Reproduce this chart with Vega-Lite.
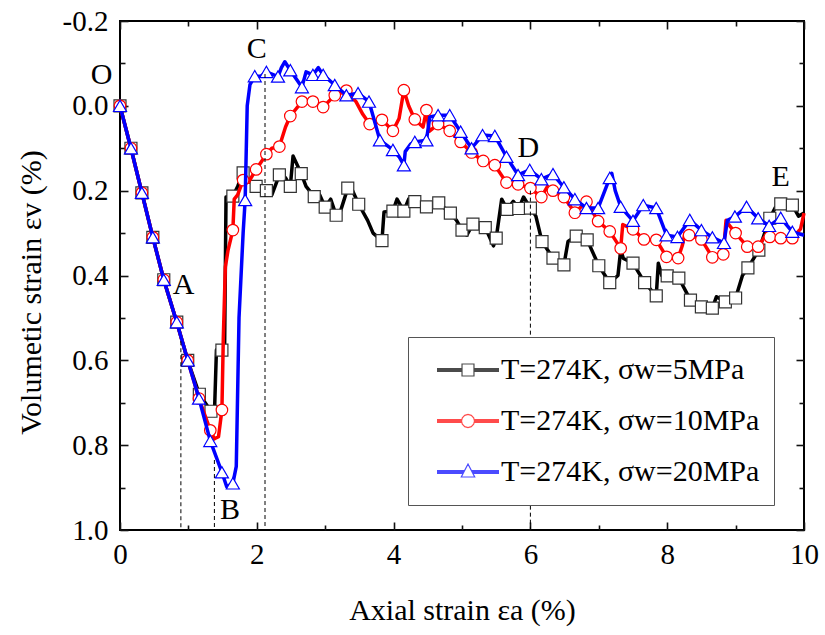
{
"$schema":"https://vega.github.io/schema/vega-lite/v6.json",
"width":684,"height":509,
"autosize":"none",
"padding":{"left":120,"top":21,"right":21,"bottom":105},
"background":"white",
"config":{"view":{"stroke":"black","strokeWidth":2},
"axis":{"grid":false,"domain":false,"labelColor":"black","titleColor":"black","titleFontWeight":"normal"}},
"datasets":{
"series":[{"series":"5MPa"},{"series":"10MPa"},{"series":"20MPa"}],
"guides":[{"axial":0.89,"vol":0.555,"vol2":1.0},{"axial":1.38,"vol":0.835,"vol2":1.0},{"axial":2.12,"vol":-0.075,"vol2":1.0},{"axial":6.0,"vol":0.2,"vol2":1.0}],
"labels":[{"label":"O","axial":-0.27,"vol":-0.072},{"label":"A","axial":0.93,"vol":0.422},{"label":"B","axial":1.61,"vol":0.953},{"label":"C","axial":2.0,"vol":-0.134},{"label":"D","axial":5.97,"vol":0.1},{"label":"E","axial":9.66,"vol":0.167}],
"curves":[
{"series":"5MPa","axial":0,"vol":0,"mk":1},{"series":"5MPa","axial":0.16,"vol":0.1,"mk":1},{"series":"5MPa","axial":0.32,"vol":0.205,"mk":1},{"series":"5MPa","axial":0.48,"vol":0.31,"mk":1},{"series":"5MPa","axial":0.64,"vol":0.41,"mk":1},{"series":"5MPa","axial":0.83,"vol":0.51,"mk":1},{"series":"5MPa","axial":0.99,"vol":0.6,"mk":1},{"series":"5MPa","axial":1.16,"vol":0.68,"mk":1},{"series":"5MPa","axial":1.33,"vol":0.72,"mk":1},{"series":"5MPa","axial":1.38,"vol":0.73,"mk":0},{"series":"5MPa","axial":1.41,"vol":0.575,"mk":0},{"series":"5MPa","axial":1.49,"vol":0.576,"mk":1},{"series":"5MPa","axial":1.53,"vol":0.56,"mk":0},{"series":"5MPa","axial":1.55,"vol":0.215,"mk":0},{"series":"5MPa","axial":1.65,"vol":0.213,"mk":1},{"series":"5MPa","axial":1.72,"vol":0.19,"mk":0},{"series":"5MPa","axial":1.8,"vol":0.158,"mk":1},{"series":"5MPa","axial":1.9,"vol":0.18,"mk":0},{"series":"5MPa","axial":1.99,"vol":0.19,"mk":1},{"series":"5MPa","axial":2.14,"vol":0.2,"mk":1},{"series":"5MPa","axial":2.22,"vol":0.21,"mk":0},{"series":"5MPa","axial":2.33,"vol":0.163,"mk":1},{"series":"5MPa","axial":2.42,"vol":0.17,"mk":0},{"series":"5MPa","axial":2.49,"vol":0.19,"mk":1},{"series":"5MPa","axial":2.53,"vol":0.118,"mk":0},{"series":"5MPa","axial":2.65,"vol":0.16,"mk":1},{"series":"5MPa","axial":2.72,"vol":0.19,"mk":0},{"series":"5MPa","axial":2.84,"vol":0.214,"mk":1},{"series":"5MPa","axial":2.92,"vol":0.21,"mk":0},{"series":"5MPa","axial":3.0,"vol":0.239,"mk":1},{"series":"5MPa","axial":3.08,"vol":0.22,"mk":0},{"series":"5MPa","axial":3.16,"vol":0.258,"mk":1},{"series":"5MPa","axial":3.22,"vol":0.25,"mk":0},{"series":"5MPa","axial":3.33,"vol":0.194,"mk":1},{"series":"5MPa","axial":3.4,"vol":0.2,"mk":0},{"series":"5MPa","axial":3.49,"vol":0.232,"mk":1},{"series":"5MPa","axial":3.62,"vol":0.27,"mk":0},{"series":"5MPa","axial":3.7,"vol":0.3,"mk":0},{"series":"5MPa","axial":3.83,"vol":0.318,"mk":1},{"series":"5MPa","axial":3.86,"vol":0.25,"mk":0},{"series":"5MPa","axial":3.99,"vol":0.248,"mk":1},{"series":"5MPa","axial":4.05,"vol":0.22,"mk":0},{"series":"5MPa","axial":4.15,"vol":0.248,"mk":1},{"series":"5MPa","axial":4.22,"vol":0.22,"mk":0},{"series":"5MPa","axial":4.31,"vol":0.226,"mk":1},{"series":"5MPa","axial":4.48,"vol":0.238,"mk":1},{"series":"5MPa","axial":4.66,"vol":0.229,"mk":1},{"series":"5MPa","axial":4.83,"vol":0.253,"mk":1},{"series":"5MPa","axial":4.92,"vol":0.27,"mk":0},{"series":"5MPa","axial":5.0,"vol":0.293,"mk":1},{"series":"5MPa","axial":5.07,"vol":0.305,"mk":0},{"series":"5MPa","axial":5.16,"vol":0.279,"mk":1},{"series":"5MPa","axial":5.34,"vol":0.287,"mk":1},{"series":"5MPa","axial":5.46,"vol":0.33,"mk":0},{"series":"5MPa","axial":5.5,"vol":0.312,"mk":1},{"series":"5MPa","axial":5.58,"vol":0.22,"mk":0},{"series":"5MPa","axial":5.66,"vol":0.244,"mk":1},{"series":"5MPa","axial":5.75,"vol":0.225,"mk":0},{"series":"5MPa","axial":5.83,"vol":0.242,"mk":1},{"series":"5MPa","axial":5.9,"vol":0.215,"mk":0},{"series":"5MPa","axial":6.0,"vol":0.241,"mk":1},{"series":"5MPa","axial":6.08,"vol":0.26,"mk":0},{"series":"5MPa","axial":6.17,"vol":0.32,"mk":1},{"series":"5MPa","axial":6.33,"vol":0.359,"mk":1},{"series":"5MPa","axial":6.49,"vol":0.375,"mk":1},{"series":"5MPa","axial":6.55,"vol":0.32,"mk":0},{"series":"5MPa","axial":6.67,"vol":0.307,"mk":1},{"series":"5MPa","axial":6.83,"vol":0.316,"mk":1},{"series":"5MPa","axial":7.0,"vol":0.377,"mk":1},{"series":"5MPa","axial":7.16,"vol":0.417,"mk":1},{"series":"5MPa","axial":7.28,"vol":0.4,"mk":0},{"series":"5MPa","axial":7.32,"vol":0.34,"mk":0},{"series":"5MPa","axial":7.36,"vol":0.36,"mk":0},{"series":"5MPa","axial":7.5,"vol":0.371,"mk":1},{"series":"5MPa","axial":7.67,"vol":0.417,"mk":1},{"series":"5MPa","axial":7.84,"vol":0.448,"mk":1},{"series":"5MPa","axial":7.87,"vol":0.371,"mk":0},{"series":"5MPa","axial":7.92,"vol":0.4,"mk":0},{"series":"5MPa","axial":8.0,"vol":0.401,"mk":1},{"series":"5MPa","axial":8.17,"vol":0.406,"mk":1},{"series":"5MPa","axial":8.34,"vol":0.458,"mk":1},{"series":"5MPa","axial":8.5,"vol":0.474,"mk":1},{"series":"5MPa","axial":8.66,"vol":0.477,"mk":1},{"series":"5MPa","axial":8.72,"vol":0.45,"mk":0},{"series":"5MPa","axial":8.85,"vol":0.462,"mk":1},{"series":"5MPa","axial":9.0,"vol":0.453,"mk":1},{"series":"5MPa","axial":9.1,"vol":0.4,"mk":0},{"series":"5MPa","axial":9.18,"vol":0.382,"mk":1},{"series":"5MPa","axial":9.34,"vol":0.34,"mk":1},{"series":"5MPa","axial":9.5,"vol":0.265,"mk":1},{"series":"5MPa","axial":9.58,"vol":0.24,"mk":0},{"series":"5MPa","axial":9.66,"vol":0.231,"mk":1},{"series":"5MPa","axial":9.83,"vol":0.234,"mk":1},{"series":"5MPa","axial":9.92,"vol":0.26,"mk":0},{"series":"5MPa","axial":10.0,"vol":0.253,"mk":0},
{"series":"10MPa","axial":0,"vol":0,"mk":1},{"series":"10MPa","axial":0.16,"vol":0.1,"mk":1},{"series":"10MPa","axial":0.32,"vol":0.205,"mk":1},{"series":"10MPa","axial":0.48,"vol":0.31,"mk":1},{"series":"10MPa","axial":0.64,"vol":0.41,"mk":1},{"series":"10MPa","axial":0.83,"vol":0.51,"mk":1},{"series":"10MPa","axial":0.99,"vol":0.6,"mk":1},{"series":"10MPa","axial":1.155,"vol":0.69,"mk":1},{"series":"10MPa","axial":1.32,"vol":0.765,"mk":1},{"series":"10MPa","axial":1.38,"vol":0.785,"mk":0},{"series":"10MPa","axial":1.44,"vol":0.78,"mk":0},{"series":"10MPa","axial":1.49,"vol":0.717,"mk":1},{"series":"10MPa","axial":1.51,"vol":0.55,"mk":0},{"series":"10MPa","axial":1.54,"vol":0.38,"mk":0},{"series":"10MPa","axial":1.58,"vol":0.34,"mk":0},{"series":"10MPa","axial":1.65,"vol":0.293,"mk":1},{"series":"10MPa","axial":1.67,"vol":0.22,"mk":0},{"series":"10MPa","axial":1.72,"vol":0.21,"mk":0},{"series":"10MPa","axial":1.8,"vol":0.175,"mk":1},{"series":"10MPa","axial":1.88,"vol":0.18,"mk":0},{"series":"10MPa","axial":1.99,"vol":0.15,"mk":1},{"series":"10MPa","axial":2.14,"vol":0.114,"mk":1},{"series":"10MPa","axial":2.22,"vol":0.1,"mk":0},{"series":"10MPa","axial":2.33,"vol":0.096,"mk":1},{"series":"10MPa","axial":2.42,"vol":0.05,"mk":0},{"series":"10MPa","axial":2.49,"vol":0.024,"mk":1},{"series":"10MPa","axial":2.66,"vol":-0.01,"mk":1},{"series":"10MPa","axial":2.82,"vol":-0.01,"mk":1},{"series":"10MPa","axial":2.97,"vol":0.003,"mk":1},{"series":"10MPa","axial":3.14,"vol":-0.025,"mk":1},{"series":"10MPa","axial":3.31,"vol":-0.036,"mk":1},{"series":"10MPa","axial":3.45,"vol":-0.01,"mk":0},{"series":"10MPa","axial":3.55,"vol":0.02,"mk":0},{"series":"10MPa","axial":3.65,"vol":0.043,"mk":1},{"series":"10MPa","axial":3.83,"vol":0.033,"mk":1},{"series":"10MPa","axial":3.99,"vol":0.059,"mk":1},{"series":"10MPa","axial":4.08,"vol":0.03,"mk":0},{"series":"10MPa","axial":4.15,"vol":-0.037,"mk":1},{"series":"10MPa","axial":4.22,"vol":0.0,"mk":0},{"series":"10MPa","axial":4.31,"vol":0.032,"mk":1},{"series":"10MPa","axial":4.43,"vol":0.05,"mk":0},{"series":"10MPa","axial":4.48,"vol":0.01,"mk":1},{"series":"10MPa","axial":4.52,"vol":0.06,"mk":0},{"series":"10MPa","axial":4.65,"vol":0.043,"mk":1},{"series":"10MPa","axial":4.82,"vol":0.059,"mk":1},{"series":"10MPa","axial":4.98,"vol":0.085,"mk":1},{"series":"10MPa","axial":5.14,"vol":0.11,"mk":1},{"series":"10MPa","axial":5.31,"vol":0.13,"mk":1},{"series":"10MPa","axial":5.48,"vol":0.14,"mk":1},{"series":"10MPa","axial":5.65,"vol":0.181,"mk":1},{"series":"10MPa","axial":5.82,"vol":0.185,"mk":1},{"series":"10MPa","axial":6.0,"vol":0.194,"mk":1},{"series":"10MPa","axial":6.16,"vol":0.215,"mk":1},{"series":"10MPa","axial":6.25,"vol":0.19,"mk":0},{"series":"10MPa","axial":6.33,"vol":0.2,"mk":1},{"series":"10MPa","axial":6.49,"vol":0.215,"mk":1},{"series":"10MPa","axial":6.65,"vol":0.252,"mk":1},{"series":"10MPa","axial":6.82,"vol":0.226,"mk":1},{"series":"10MPa","axial":6.99,"vol":0.272,"mk":1},{"series":"10MPa","axial":7.16,"vol":0.296,"mk":1},{"series":"10MPa","axial":7.32,"vol":0.336,"mk":1},{"series":"10MPa","axial":7.35,"vol":0.28,"mk":0},{"series":"10MPa","axial":7.5,"vol":0.291,"mk":1},{"series":"10MPa","axial":7.66,"vol":0.315,"mk":1},{"series":"10MPa","axial":7.84,"vol":0.316,"mk":1},{"series":"10MPa","axial":7.99,"vol":0.356,"mk":1},{"series":"10MPa","axial":8.16,"vol":0.359,"mk":1},{"series":"10MPa","axial":8.22,"vol":0.33,"mk":0},{"series":"10MPa","axial":8.26,"vol":0.3,"mk":0},{"series":"10MPa","axial":8.32,"vol":0.305,"mk":1},{"series":"10MPa","axial":8.5,"vol":0.315,"mk":1},{"series":"10MPa","axial":8.66,"vol":0.357,"mk":1},{"series":"10MPa","axial":8.82,"vol":0.35,"mk":1},{"series":"10MPa","axial":8.86,"vol":0.27,"mk":0},{"series":"10MPa","axial":8.9,"vol":0.28,"mk":0},{"series":"10MPa","axial":9.0,"vol":0.3,"mk":1},{"series":"10MPa","axial":9.17,"vol":0.332,"mk":1},{"series":"10MPa","axial":9.33,"vol":0.332,"mk":1},{"series":"10MPa","axial":9.42,"vol":0.31,"mk":0},{"series":"10MPa","axial":9.5,"vol":0.309,"mk":1},{"series":"10MPa","axial":9.66,"vol":0.312,"mk":1},{"series":"10MPa","axial":9.83,"vol":0.312,"mk":1},{"series":"10MPa","axial":9.95,"vol":0.29,"mk":0},{"series":"10MPa","axial":10.0,"vol":0.253,"mk":0},
{"series":"20MPa","axial":0,"vol":0,"mk":1},{"series":"20MPa","axial":0.16,"vol":0.1,"mk":1},{"series":"20MPa","axial":0.32,"vol":0.205,"mk":1},{"series":"20MPa","axial":0.48,"vol":0.31,"mk":1},{"series":"20MPa","axial":0.64,"vol":0.41,"mk":1},{"series":"20MPa","axial":0.83,"vol":0.51,"mk":1},{"series":"20MPa","axial":0.99,"vol":0.6,"mk":1},{"series":"20MPa","axial":1.155,"vol":0.69,"mk":1},{"series":"20MPa","axial":1.32,"vol":0.79,"mk":1},{"series":"20MPa","axial":1.49,"vol":0.864,"mk":1},{"series":"20MPa","axial":1.56,"vol":0.898,"mk":0},{"series":"20MPa","axial":1.65,"vol":0.89,"mk":1},{"series":"20MPa","axial":1.7,"vol":0.85,"mk":0},{"series":"20MPa","axial":1.74,"vol":0.5,"mk":0},{"series":"20MPa","axial":1.8,"vol":0.3,"mk":0},{"series":"20MPa","axial":1.83,"vol":0.222,"mk":1},{"series":"20MPa","axial":1.86,"vol":0.0,"mk":0},{"series":"20MPa","axial":1.9,"vol":-0.05,"mk":0},{"series":"20MPa","axial":1.97,"vol":-0.07,"mk":1},{"series":"20MPa","axial":2.06,"vol":-0.07,"mk":0},{"series":"20MPa","axial":2.14,"vol":-0.08,"mk":1},{"series":"20MPa","axial":2.31,"vol":-0.069,"mk":1},{"series":"20MPa","axial":2.36,"vol":-0.09,"mk":0},{"series":"20MPa","axial":2.41,"vol":-0.104,"mk":0},{"series":"20MPa","axial":2.49,"vol":-0.084,"mk":1},{"series":"20MPa","axial":2.66,"vol":-0.044,"mk":1},{"series":"20MPa","axial":2.72,"vol":-0.08,"mk":0},{"series":"20MPa","axial":2.82,"vol":-0.073,"mk":1},{"series":"20MPa","axial":2.9,"vol":-0.09,"mk":0},{"series":"20MPa","axial":2.97,"vol":-0.073,"mk":1},{"series":"20MPa","axial":3.14,"vol":-0.049,"mk":1},{"series":"20MPa","axial":3.31,"vol":-0.025,"mk":1},{"series":"20MPa","axial":3.48,"vol":-0.03,"mk":1},{"series":"20MPa","axial":3.64,"vol":-0.01,"mk":1},{"series":"20MPa","axial":3.8,"vol":0.081,"mk":1},{"series":"20MPa","axial":3.99,"vol":0.104,"mk":1},{"series":"20MPa","axial":4.08,"vol":0.12,"mk":0},{"series":"20MPa","axial":4.15,"vol":0.14,"mk":1},{"series":"20MPa","axial":4.17,"vol":0.108,"mk":0},{"series":"20MPa","axial":4.25,"vol":0.09,"mk":0},{"series":"20MPa","axial":4.31,"vol":0.085,"mk":1},{"series":"20MPa","axial":4.48,"vol":0.081,"mk":1},{"series":"20MPa","axial":4.53,"vol":0.026,"mk":0},{"series":"20MPa","axial":4.65,"vol":0.022,"mk":1},{"series":"20MPa","axial":4.82,"vol":0.022,"mk":1},{"series":"20MPa","axial":4.98,"vol":0.061,"mk":1},{"series":"20MPa","axial":5.14,"vol":0.1,"mk":1},{"series":"20MPa","axial":5.3,"vol":0.069,"mk":1},{"series":"20MPa","axial":5.48,"vol":0.071,"mk":1},{"series":"20MPa","axial":5.65,"vol":0.12,"mk":1},{"series":"20MPa","axial":5.82,"vol":0.163,"mk":1},{"series":"20MPa","axial":5.99,"vol":0.151,"mk":1},{"series":"20MPa","axial":6.16,"vol":0.173,"mk":1},{"series":"20MPa","axial":6.33,"vol":0.161,"mk":1},{"series":"20MPa","axial":6.49,"vol":0.192,"mk":1},{"series":"20MPa","axial":6.65,"vol":0.22,"mk":1},{"series":"20MPa","axial":6.82,"vol":0.241,"mk":1},{"series":"20MPa","axial":6.99,"vol":0.241,"mk":1},{"series":"20MPa","axial":7.16,"vol":0.17,"mk":1},{"series":"20MPa","axial":7.19,"vol":0.159,"mk":0},{"series":"20MPa","axial":7.24,"vol":0.2,"mk":0},{"series":"20MPa","axial":7.32,"vol":0.238,"mk":1},{"series":"20MPa","axial":7.5,"vol":0.271,"mk":1},{"series":"20MPa","axial":7.65,"vol":0.234,"mk":1},{"series":"20MPa","axial":7.84,"vol":0.241,"mk":1},{"series":"20MPa","axial":7.99,"vol":0.305,"mk":1},{"series":"20MPa","axial":8.15,"vol":0.309,"mk":1},{"series":"20MPa","axial":8.33,"vol":0.269,"mk":1},{"series":"20MPa","axial":8.5,"vol":0.293,"mk":1},{"series":"20MPa","axial":8.66,"vol":0.31,"mk":1},{"series":"20MPa","axial":8.83,"vol":0.323,"mk":1},{"series":"20MPa","axial":8.88,"vol":0.27,"mk":0},{"series":"20MPa","axial":8.99,"vol":0.261,"mk":1},{"series":"20MPa","axial":9.16,"vol":0.238,"mk":1},{"series":"20MPa","axial":9.33,"vol":0.265,"mk":1},{"series":"20MPa","axial":9.49,"vol":0.283,"mk":1},{"series":"20MPa","axial":9.66,"vol":0.264,"mk":1},{"series":"20MPa","axial":9.83,"vol":0.297,"mk":1},{"series":"20MPa","axial":10.0,"vol":0.305,"mk":0}
]},
"layer":[
{"data":{"name":"series"},
 "mark":{"type":"point","filled":true,"fill":"white","strokeWidth":1.2},
 "encoding":{
  "x":{"field":"axial","type":"quantitative","scale":{"domain":[0,10],"nice":false,"zero":false},
   "axis":{"orient":"bottom","values":[0,2,4,6,8,10],"ticks":true,"tickSize":8,"offset":-8,"tickColor":"#111111","tickWidth":1.6,"labelFont":"Liberation Serif","labelFontSize":29,"labelPadding":10,"labelFlush":false,"title":"Axial strain εa (%)","titleFont":"Liberation Serif","titleFontSize":30,"titleX":342,"titleY":97,"titleBaseline":"alphabetic","titleAlign":"center"}},
  "y":{"field":"vol","type":"quantitative","scale":{"domain":[-0.2,1.0],"nice":false,"zero":false,"reverse":true},
   "axis":{"orient":"left","values":[-0.2,0,0.2,0.4,0.6,0.8,1.0],"ticks":true,"tickSize":8,"offset":-8,"tickColor":"#111111","tickWidth":1.6,"labelFont":"Liberation Serif","labelFontSize":29,"labelPadding":12,"labelFlush":false,"labelExpr":"replace(format(datum.value,'.1f'),'−','-')","title":"Volumetic strain εv (%)","titleFont":"Liberation Serif","titleFontSize":30,"titleX":-88,"titleY":271,"titleAngle":-90,"titleBaseline":"alphabetic","titleAlign":"center"}},
  "stroke":{"field":"series","type":"nominal","scale":{"domain":["5MPa","10MPa","20MPa"],"range":["black","red","blue"]},
   "legend":{"orient":"none","legendX":288,"legendY":316,"title":null,"labelExpr":"'T=274K, σw=' + datum.label","labelFont":"Liberation Serif","labelFontSize":30,"labelColor":"black","labelLimit":500,"symbolSize":9604,"symbolStrokeWidth":1.2,"symbolFillColor":"white","symbolOpacity":1,"symbolOffset":-4,"labelOffset":-17,"clipHeight":38,"rowPadding":13,"padding":14,"strokeColor":"#555555","fillColor":"white"}},
  "shape":{"field":"series","type":"nominal","scale":{"domain":["5MPa","10MPa","20MPa"],"range":[
   "M-0.633,-0.03H-0.122M-0.633,-0.015H-0.122M-0.633,0H-0.122M-0.633,0.015H-0.122M-0.633,0.03H-0.122M0.122,-0.03H0.633M0.122,-0.015H0.633M0.122,0H0.633M0.122,0.015H0.633M0.122,0.03H0.633M-0.122,-0.122H0.122V0.122H-0.122Z",
   "M-0.633,-0.03H-0.13M-0.633,-0.015H-0.133M-0.633,0H-0.133M-0.633,0.015H-0.133M-0.633,0.03H-0.13M0.13,-0.03H0.633M0.133,-0.015H0.633M0.133,0H0.633M0.133,0.015H0.633M0.13,0.03H0.633M0.133,0L0.115,0.067L0.067,0.115L0,0.133L-0.067,0.115L-0.115,0.067L-0.133,0L-0.115,-0.067L-0.067,-0.115L0,-0.133L0.067,-0.115L0.115,-0.067Z",
   "M-0.633,-0.03H-0.069M-0.633,-0.015H-0.077M-0.633,0H-0.084M-0.633,0.015H-0.092M-0.633,0.03H-0.1M0.069,-0.03H0.633M0.077,-0.015H0.633M0.084,0H0.633M0.092,0.015H0.633M0.1,0.03H0.633M0,-0.163L0.137,0.102L-0.137,0.102Z"]}}
 }},
{"data":{"name":"curves"},"transform":[{"filter":"datum.series==='5MPa'"}],
 "mark":{"type":"line","color":"black","strokeWidth":3.5,"strokeJoin":"round"},
 "encoding":{"x":{"field":"axial","type":"quantitative","axis":{"orient":"bottom","values":[1,3,5,7,9],"labels":false,"ticks":true,"tickSize":5,"offset":-5,"tickColor":"#111111","tickWidth":1.6,"title":null}},
  "y":{"field":"vol","type":"quantitative","axis":{"orient":"left","values":[-0.1,0.1,0.3,0.5,0.7,0.9],"labels":false,"ticks":true,"tickSize":5,"offset":-5,"tickColor":"#111111","tickWidth":1.6,"title":null}}}},
{"data":{"name":"curves"},"transform":[{"filter":"datum.series==='5MPa' && datum.mk===1"}],
 "mark":{"type":"point","shape":"square","filled":true,"fill":"white","stroke":"#333333","strokeWidth":1.2,"size":144,"opacity":1},
 "encoding":{"x":{"field":"axial","type":"quantitative","axis":{"orient":"top","values":[0,2,4,6,8,10],"labels":false,"ticks":true,"tickSize":8,"offset":-8,"tickColor":"#111111","tickWidth":1.6,"title":null}},
  "y":{"field":"vol","type":"quantitative","axis":{"orient":"right","values":[-0.2,0,0.2,0.4,0.6,0.8,1.0],"labels":false,"ticks":true,"tickSize":8,"offset":-8,"tickColor":"#111111","tickWidth":1.6,"title":null}}}},
{"data":{"name":"curves"},"transform":[{"filter":"datum.series==='10MPa'"}],
 "mark":{"type":"line","color":"red","strokeWidth":3.5,"strokeJoin":"round"},
 "encoding":{"x":{"field":"axial","type":"quantitative","axis":{"orient":"top","values":[1,3,5,7,9],"labels":false,"ticks":true,"tickSize":5,"offset":-5,"tickColor":"#111111","tickWidth":1.6,"title":null}},
  "y":{"field":"vol","type":"quantitative","axis":{"orient":"right","values":[-0.1,0.1,0.3,0.5,0.7,0.9],"labels":false,"ticks":true,"tickSize":5,"offset":-5,"tickColor":"#111111","tickWidth":1.6,"title":null}}}},
{"data":{"name":"curves"},"transform":[{"filter":"datum.series==='10MPa' && datum.mk===1"}],
 "mark":{"type":"point","shape":"circle","filled":true,"fill":"white","stroke":"red","strokeWidth":1.2,"size":133,"opacity":1},
 "encoding":{"x":{"field":"axial","type":"quantitative","axis":null},"y":{"field":"vol","type":"quantitative","axis":null}}},
{"data":{"name":"curves"},"transform":[{"filter":"datum.series==='20MPa'"}],
 "mark":{"type":"line","color":"blue","strokeWidth":3.5,"strokeJoin":"round"},
 "encoding":{"x":{"field":"axial","type":"quantitative","axis":null},"y":{"field":"vol","type":"quantitative","axis":null}}},
{"data":{"name":"curves"},"transform":[{"filter":"datum.series==='20MPa' && datum.mk===1"}],
 "mark":{"type":"point","shape":"triangle-up","filled":true,"fill":"white","stroke":"blue","strokeWidth":1.2,"size":170,"opacity":1},
 "encoding":{"x":{"field":"axial","type":"quantitative","axis":null},"y":{"field":"vol","type":"quantitative","axis":null}}},
{"data":{"name":"guides"},
 "mark":{"type":"rule","color":"black","strokeWidth":1,"strokeDash":[4,3]},
 "encoding":{"x":{"field":"axial","type":"quantitative","axis":null},"y":{"field":"vol","type":"quantitative","axis":null},"y2":{"field":"vol2"}}},
{"data":{"name":"labels"},
 "mark":{"type":"text","font":"Liberation Serif","fontSize":30,"color":"black","align":"center","baseline":"middle"},
 "encoding":{"x":{"field":"axial","type":"quantitative","axis":null},"y":{"field":"vol","type":"quantitative","axis":null},"text":{"field":"label"}}}
],
"resolve":{"axis":{"x":"independent","y":"independent"}}
}
